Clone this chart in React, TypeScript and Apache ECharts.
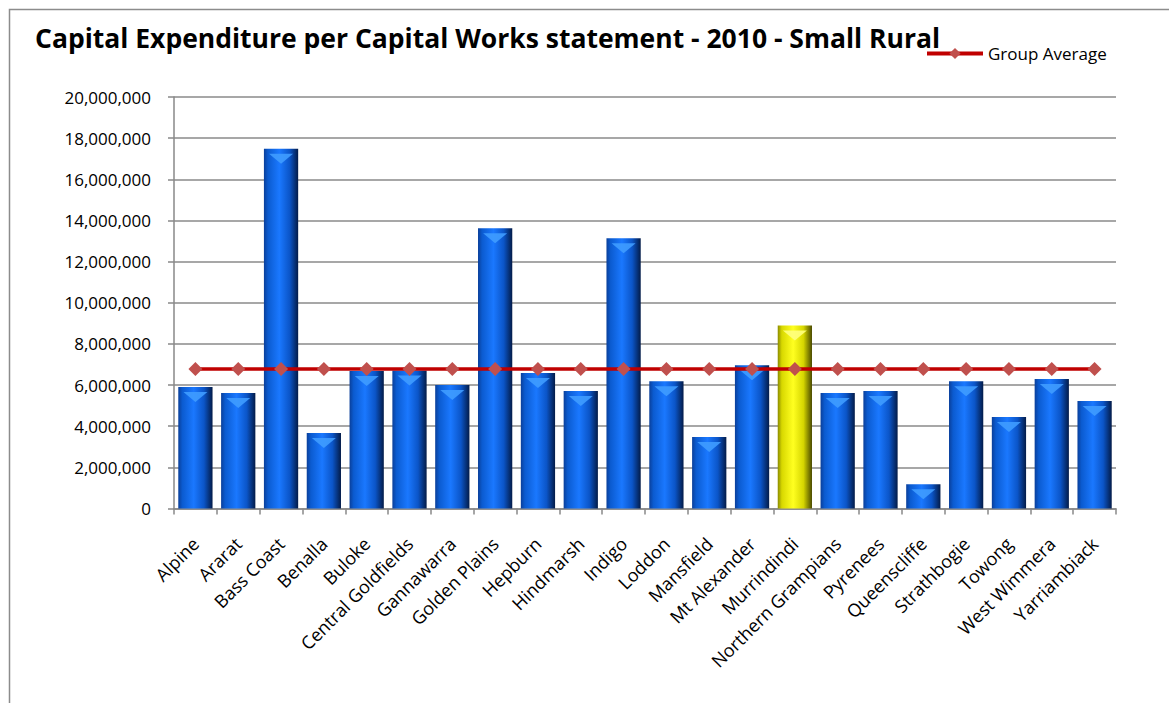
import React, { useEffect, useRef } from "react";
import * as echarts from "echarts";

const categories = [
  "Alpine", "Ararat", "Bass Coast", "Benalla", "Buloke", "Central Goldfields",
  "Gannawarra", "Golden Plains", "Hepburn", "Hindmarsh", "Indigo", "Loddon",
  "Mansfield", "Mt Alexander", "Murrindindi", "Northern Grampians", "Pyrenees",
  "Queenscliffe", "Strathbogie", "Towong", "West Wimmera", "Yarriambiack",
];
const capitalExpenditure = [
  5900000, 5610000, 17490000, 3670000, 6680000, 6710000,
  6000000, 13620000, 6580000, 5710000, 13140000, 6180000,
  3480000, 6960000, 8900000, 5610000, 5710000, 1180000,
  6180000, 4450000, 6290000, 5220000,
];
const groupAverageValue = 6780000;
const groupAverage = categories.map(() => groupAverageValue);
const highlighted = "Murrindindi";
const yTicks = { min: 0, max: 20000000, interval: 2000000 };

const blueGrad = () =>
  new echarts.graphic.LinearGradient(0, 0, 1, 0, [
    { offset: 0, color: "#0a3f9a" },
    { offset: 0.12, color: "#0b5bd0" },
    { offset: 0.45, color: "#1a78ff" },
    { offset: 0.75, color: "#0b55c8" },
    { offset: 1, color: "#031b48" },
  ]);
const yellowGrad = () =>
  new echarts.graphic.LinearGradient(0, 0, 1, 0, [
    { offset: 0, color: "#8a8a00" },
    { offset: 0.12, color: "#d8d800" },
    { offset: 0.45, color: "#ffff20" },
    { offset: 0.75, color: "#d6d600" },
    { offset: 1, color: "#4a4a00" },
  ]);

export default function App() {
  const ref = useRef<HTMLDivElement>(null);
  useEffect(() => {
    document.body.style.margin = "0";
    const chart = echarts.init(ref.current!, undefined, { renderer: "svg" });
    const font = "Open Sans";
    chart.setOption({
      animation: false,
      backgroundColor: "#ffffff",
      textStyle: { fontFamily: font },
      graphic: [
        {
          type: "rect",
          shape: { x: 9.5, y: 9.5, width: 1300, height: 900 },
          style: { fill: "none", stroke: "#8c8c8c", lineWidth: 1.5 },
          silent: true,
        },
      ],
      title: {
        text: "Capital Expenditure per Capital Works statement - 2010 - Small Rural",
        left: 30,
        top: 19,
        textStyle: {
          fontFamily: font,
          fontWeight: "bold",
          fontSize: 26.5,
          color: "#000",
        },
      },
      legend: {
        data: ["Group Average"],
        left: 920,
        top: 40,
        itemWidth: 56,
        itemHeight: 14,
        itemGap: 4,
        lineStyle: { width: 4, color: "#c00000" },
        textStyle: { fontFamily: font, fontSize: 17, color: "#000" },
      },
      grid: { left: 174, right: 53, top: 97, bottom: 194.5, containLabel: false },
      xAxis: {
        type: "category",
        data: categories,
        boundaryGap: true,
        axisLine: { show: true, lineStyle: { color: "#888", width: 1.5 } },
        axisTick: { show: true, length: 6, lineStyle: { color: "#888", width: 1.5 } },
        axisLabel: { rotate: 45, fontSize: 18, color: "#000", margin: 32, interval: 0, fontFamily: font },
      },
      yAxis: {
        type: "value",
        min: yTicks.min,
        max: yTicks.max,
        interval: yTicks.interval,
        axisLine: { show: true, lineStyle: { color: "#888", width: 1.5 } },
        axisTick: { show: true, length: 6, lineStyle: { color: "#888", width: 1.5 } },
        splitLine: { show: true, lineStyle: { color: "#8a8a8a", width: 1.5 } },
        axisLabel: {
          fontSize: 17,
          color: "#000",
          margin: 23,
          fontFamily: font,
          formatter: (v: number) => v.toLocaleString("en-US"),
        },
      },
      series: [
        {
          name: "Capital Expenditure",
          type: "bar",
          barCategoryGap: "20%",
          data: capitalExpenditure.map((v, i) => ({
            value: v,
            itemStyle: { color: categories[i] === highlighted ? yellowGrad() : blueGrad() },
          })),
          z: 2,
        },
        {
          name: "cap",
          type: "pictorialBar",
          symbol: "path://M0,0 L10,0 L5,4 Z",
          symbolPosition: "end",
          symbolSize: ["70%", 10],
          symbolOffset: [0, "50%"],
          barGap: "-100%",
          barCategoryGap: "20%",
          data: capitalExpenditure.map((v, i) => ({
            value: v,
            itemStyle: { color: categories[i] === highlighted ? "#ffff80" : "#3f9cff", opacity: 0.9 },
          })),
          silent: true,
          z: 3,
        },
        {
          name: "Group Average",
          type: "line",
          data: groupAverage,
          symbol: "diamond",
          symbolSize: 14,
          lineStyle: { color: "#c00000", width: 3.5 },
          itemStyle: { color: "#c0504d" },
          z: 5,
        },
      ],
    });
    return () => chart.dispose();
  }, []);
  return <div ref={ref} style={{ position: "absolute", left: 0, top: 0, width: 1169, height: 703 }} />;
}
